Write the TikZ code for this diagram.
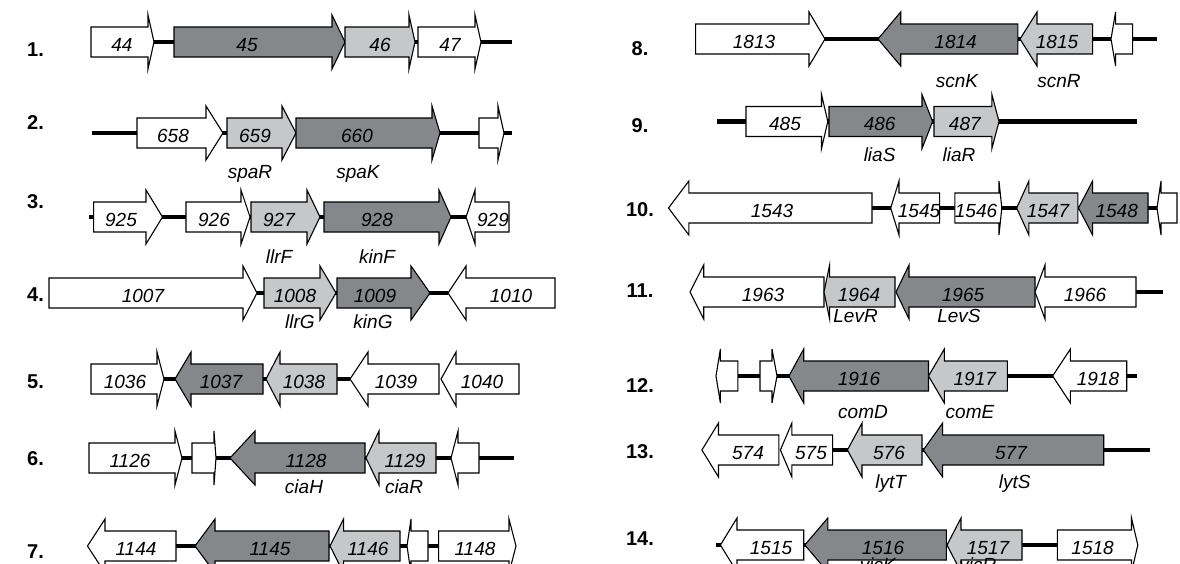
\documentclass[tikz,border=0pt]{standalone}
\usepackage{fontspec}
\setmainfont{Liberation Sans}
\definecolor{dk}{HTML}{86878A}
\definecolor{lt}{HTML}{C6C7C9}
\tikzset{
  gW/.style={draw=black,line width=1.1pt,fill=white,line join=miter},
  gD/.style={draw=black,line width=1.1pt,fill=dk,line join=miter},
  gL/.style={draw=black,line width=1.1pt,fill=lt,line join=miter},
  num/.style={anchor=base,inner sep=0pt,font=\fontsize{19}{22}\selectfont\itshape},
  lab/.style={anchor=base,inner sep=0pt,font=\fontsize{19}{22}\selectfont\itshape},
  rowlab/.style={anchor=base,inner sep=0pt,font=\fontsize{20}{24}\selectfont\bfseries},
  dna/.style={line width=4.5pt,black}
}
% gene with number: style, centre y, flat end x, head base x, tip x, text x, text
\newcommand{\gn}[7]{%
  \draw[#1] (#3,#2-15) -- (#4,#2-15) -- (#4,#2-27) -- (#5,#2) -- (#4,#2+27) -- (#4,#2+15) -- (#3,#2+15) -- cycle;
  \node[num] (g#7) at (#6,#2+9) {#7};}
% small gene without number
\newcommand{\gs}[5]{%
  \draw[#1] (#3,#2-15) -- (#4,#2-15) -- (#4,#2-27) -- (#5,#2) -- (#4,#2+27) -- (#4,#2+15) -- (#3,#2+15) -- cycle;}
\newcommand{\dnaline}[3]{\draw[dna] (#2,#1) -- (#3,#1);}
\begin{document}
\begin{tikzpicture}[x=1pt,y=-1pt]
\useasboundingbox (0,0) rectangle (1180,563);
\fill[white] (0,0) rectangle (1180,563);
% ---------- left column ----------
% row 1
\node[rowlab] (r1) at (35.5,56) {1.};
\dnaline{42}{154}{512}
\gn{gW}{42}{91}{148}{154}{122}{44}
\gn{gD}{42}{174}{332}{345}{247}{45}
\gn{gL}{42}{345}{409}{415}{380}{46}
\gn{gW}{42}{418}{475}{481}{450}{47}
% row 2
\node[rowlab] (r2) at (35.5,129) {2.};
\dnaline{133}{92}{512}
\gn{gW}{133}{137}{206}{223}{173}{658}
\gn{gL}{133}{227}{282}{296}{255}{659}
\gn{gD}{133}{296}{432}{440}{357}{660}
\gs{gW}{133}{479}{498}{504}
\node[lab] (l-spaR) at (250,178) {spaR};
\node[lab] (l-spaK) at (358,178) {spaK};
% row 3
\node[rowlab] (r3) at (35.5,208) {3.};
\dnaline{217}{88.6}{466}
\gn{gW}{217}{93.6}{146}{162.5}{121}{925}
\gn{gW}{217}{186}{241}{250}{214}{926}
\gn{gL}{217}{251}{307}{320}{279}{927}
\gn{gD}{217}{324}{439}{451}{377}{928}
\gn{gW}{217}{509}{475}{466}{493}{929}
\node[lab] (l-llrF) at (279,263) {llrF};
\node[lab] (l-kinF) at (377,263) {kinF};
% row 4
\node[rowlab] (r4) at (35.5,301) {4.};
\dnaline{293}{257}{448}
\gn{gW}{293}{49}{243}{257}{143}{1007}
\gn{gL}{293}{264}{320}{336}{295}{1008}
\gn{gD}{293}{337}{411}{430}{375}{1009}
\gn{gW}{293}{555}{466}{448}{511}{1010}
\node[lab] (l-llrG) at (300,328) {llrG};
\node[lab] (l-kinG) at (373,328) {kinG};
% row 5
\node[rowlab] (r5) at (35.5,388) {5.};
\dnaline{379}{164}{350}
\gn{gW}{379}{91}{157}{164}{125}{1036}
\gn{gD}{379}{263}{191}{175}{221}{1037}
\gn{gL}{379}{337}{280}{266}{304}{1038}
\gn{gW}{379}{439}{368}{350}{396}{1039}
\gn{gW}{379}{519}{456}{441}{482}{1040}
% row 6
\node[rowlab] (r6) at (35.5,465) {6.};
\dnaline{458}{175}{514}
\gn{gW}{458}{89}{175}{182}{130}{1126}
\gs{gW}{458}{192}{214}{216}
\gn{gD}{458}{365}{255}{230}{306}{1128}
\gn{gL}{458}{436}{379}{366}{405}{1129}
\gs{gW}{458}{479}{458}{451}
\node[lab] (l-ciaH) at (304,493) {ciaH};
\node[lab] (l-ciaR) at (404,493) {ciaR};
% row 7
\node[rowlab] (r7) at (35.5,558) {7.};
\dnaline{546}{176}{438.6}
\gn{gW}{546}{176}{105}{87.5}{136}{1144}
\gn{gD}{546}{329}{215}{195}{270}{1145}
\gn{gL}{546}{400}{343.6}{330}{368}{1146}
\gs{gW}{546}{428}{411}{407}
\gn{gW}{546}{438.6}{509}{516}{475}{1148}
% ---------- right column ----------
% row 8
\node[rowlab] (r8) at (640,55.5) {8.};
\dnaline{39}{825}{1157.4}
\gn{gW}{39}{695.6}{809}{825}{754}{1813}
\gn{gD}{39}{1017.8}{900.7}{878}{955.6}{1814}
\gn{gL}{39}{1092.6}{1037}{1020}{1057}{1815}
\gs{gW}{39}{1132.6}{1115.6}{1111}
\node[lab] (l-scnK) at (957,87) {scnK};
\node[lab] (l-scnR) at (1059,87) {scnR};
% row 9
\node[rowlab] (r9) at (640,132) {9.};
\dnaline{121.5}{716.7}{1137}
\gn{gW}{121.5}{746}{821.5}{827.8}{785}{485}
\gn{gD}{121.5}{829}{922}{932.6}{879.6}{486}
\gn{gL}{121.5}{934}{991.9}{999}{964.8}{487}
\node[lab] (l-liaS) at (879.6,161.7) {liaS};
\node[lab] (l-liaR) at (959,161.7) {liaR};
% row 10
\node[rowlab] (r10) at (640,216) {10.};
\dnaline{208}{872}{1157}
\gn{gW}{208}{872}{688.9}{668.5}{772}{1543}
\gn{gW}{208}{939.6}{899}{890.7}{919}{1545}
\gn{gW}{208}{954.8}{999}{1001.8}{976}{1546}
\gn{gL}{208}{1077.8}{1028.9}{1016.7}{1048}{1547}
\gn{gD}{208}{1148}{1092.6}{1078.5}{1116.7}{1548}
\gs{gW}{208}{1177}{1161}{1157}
% row 11
\node[rowlab] (r11) at (640,297.8) {11.};
\dnaline{292}{1136}{1163}
\gn{gW}{292}{824}{703.7}{690}{763}{1963}
\gn{gL}{292}{895}{829.6}{824}{859}{1964}
\gn{gD}{292}{1035}{909}{896}{963}{1965}
\gn{gW}{292}{1136}{1045}{1035}{1085}{1966}
\node[lab] (l-LevR) at (855.6,322.6) {LevR};
\node[lab] (l-LevS) at (959,322.6) {LevS};
% row 12
\node[rowlab] (r12) at (640,392) {12.};
\dnaline{376}{737.8}{1137}
\gs{gW}{376}{737.8}{720.4}{716}
\gs{gW}{376}{760}{772}{777}
\gn{gD}{376}{928.5}{803.7}{788.9}{859}{1916}
\gn{gL}{376}{1007.4}{944.4}{928.5}{974.8}{1917}
\gn{gW}{376}{1126.7}{1070.4}{1052.6}{1098}{1918}
\node[lab] (l-comD) at (863,418) {comD};
\node[lab] (l-comE) at (970,418) {comE};
% row 13
\node[rowlab] (r13) at (640,458.5) {13.};
\dnaline{450}{832.6}{1150}
\gn{gW}{450}{778.9}{718.5}{701.9}{748}{574}
\gn{gW}{450}{832.6}{791.9}{780.4}{811}{575}
\gn{gL}{450}{922}{862}{847.4}{889}{576}
\gn{gD}{450}{1103.7}{942.6}{923.3}{1011}{577}
\node[lab] (l-lytT) at (890.7,488) {lytT};
\node[lab] (l-lytS) at (1014.8,488) {lytS};
% row 14
\node[rowlab] (r14) at (640,545.6) {14.};
\dnaline{545}{715.6}{1057.4}
\gn{gW}{545}{803.7}{737}{720.4}{771}{1515}
\gn{gD}{545}{946.3}{827.8}{804.8}{883}{1516}
\gn{gL}{545}{1022}{961}{947}{988}{1517}
\gn{gW}{545}{1057.4}{1131.5}{1137.8}{1092.6}{1518}
\node[lab] (l-vicK) at (877.8,571) {vicK};
\node[lab] (l-vicR) at (977.8,571) {vicR};
\end{tikzpicture}
\end{document}
